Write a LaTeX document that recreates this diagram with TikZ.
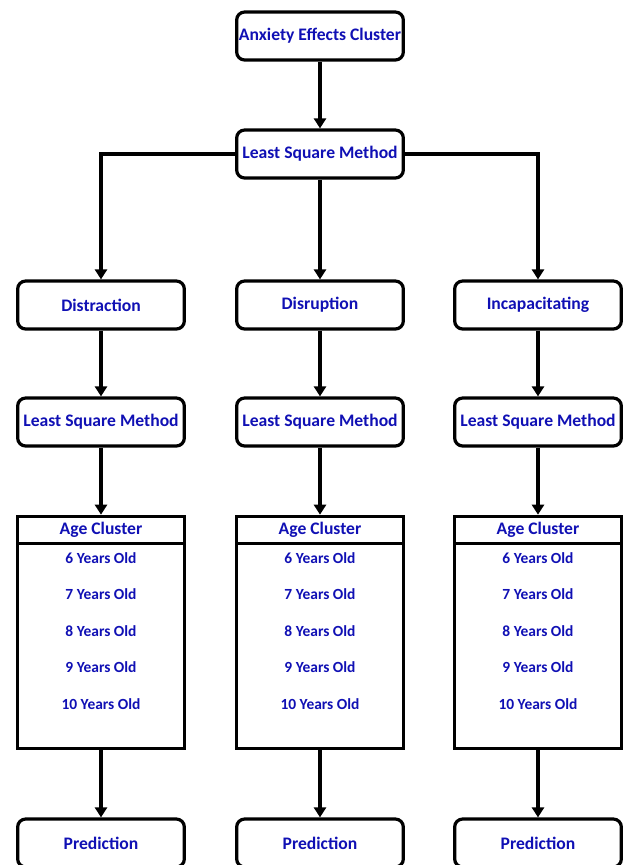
\documentclass[tikz,border=0pt]{standalone}
\usepackage{fontspec}
\setmainfont{Carlito}
\usetikzlibrary{arrows.meta}
\definecolor{txtblue}{RGB}{16,16,180}

\begin{document}
\begin{tikzpicture}[x=0.75pt,y=0.75pt,yscale=-1,xscale=1,
  box/.style={draw,line width=2.4pt,rounded corners=6pt,minimum width=125pt,minimum height=36pt,inner sep=0.75pt,font=\bfseries\fontsize{13.2}{15}\selectfont,text=txtblue},
  agebox/.style={draw,line width=2.4pt,minimum width=125pt,minimum height=174pt,inner sep=0pt},
  agehead/.style={draw,line width=2.4pt,minimum width=125pt,minimum height=20.6pt,inner sep=0pt,font=\bfseries\fontsize{13.2}{15}\selectfont,text=txtblue},
  ageitem/.style={inner sep=0.75pt,font=\bfseries\fontsize{11.6}{13}\selectfont,text=txtblue},
  link/.style={line width=2.4pt,-{Triangle[length=7.5pt,width=9pt]}}]
\useasboundingbox (0,0) rectangle (628,865);

%Shape: Top Boxes
\node [box] (anx) at (320,36) {Anxiety Effects Cluster};
\node [box] (lsm) at (320,154) {Least Square Method};

%Shape: Effect Boxes
\node [box] (dist) at (101,305) {Distraction};
\node [box] (disr) at (320,305) {Disruption};
\node [box] (inca) at (538,305) {Incapacitating};

%Shape: Method Boxes
\node [box] (lsmA) at (101,422) {Least Square Method};
\node [box] (lsmB) at (320,422) {Least Square Method};
\node [box] (lsmC) at (538,422) {Least Square Method};

%Shape: Age Cluster Boxes
\node [agebox] (ageA) at (101,632.5) {};
\node [agehead] (headA) at (101,530) {Age Cluster};
\node [ageitem] (a6) at (101,558) {6 Years Old};
\node [ageitem] (a7) at (101,594.5) {7 Years Old};
\node [ageitem] (a8) at (101,631) {8 Years Old};
\node [ageitem] (a9) at (101,667.5) {9 Years Old};
\node [ageitem] (a10) at (101,704) {10 Years Old};

\node [agebox] (ageB) at (320,632.5) {};
\node [agehead] (headB) at (320,530) {Age Cluster};
\node [ageitem] (b6) at (320,558) {6 Years Old};
\node [ageitem] (b7) at (320,594.5) {7 Years Old};
\node [ageitem] (b8) at (320,631) {8 Years Old};
\node [ageitem] (b9) at (320,667.5) {9 Years Old};
\node [ageitem] (b10) at (320,704) {10 Years Old};

\node [agebox] (ageC) at (538,632.5) {};
\node [agehead] (headC) at (538,530) {Age Cluster};
\node [ageitem] (c6) at (538,558) {6 Years Old};
\node [ageitem] (c7) at (538,594.5) {7 Years Old};
\node [ageitem] (c8) at (538,631) {8 Years Old};
\node [ageitem] (c9) at (538,667.5) {9 Years Old};
\node [ageitem] (c10) at (538,704) {10 Years Old};

%Shape: Prediction Boxes
\node [box] (predA) at (101,843) {Prediction};
\node [box] (predB) at (320,843) {Prediction};
\node [box] (predC) at (538,843) {Prediction};

%Arrows
\draw [link] (anx) -- (lsm);
\draw [link] (lsm.west) -| (dist.north);
\draw [link] (lsm) -- (disr);
\draw [link] (lsm.east) -| (inca.north);

\draw [link] (dist) -- (lsmA);
\draw [link] (disr) -- (lsmB);
\draw [link] (inca) -- (lsmC);

\draw [link] (lsmA) -- (headA);
\draw [link] (lsmB) -- (headB);
\draw [link] (lsmC) -- (headC);

\draw [link] (ageA) -- (predA);
\draw [link] (ageB) -- (predB);
\draw [link] (ageC) -- (predC);

\end{tikzpicture}
\end{document}
